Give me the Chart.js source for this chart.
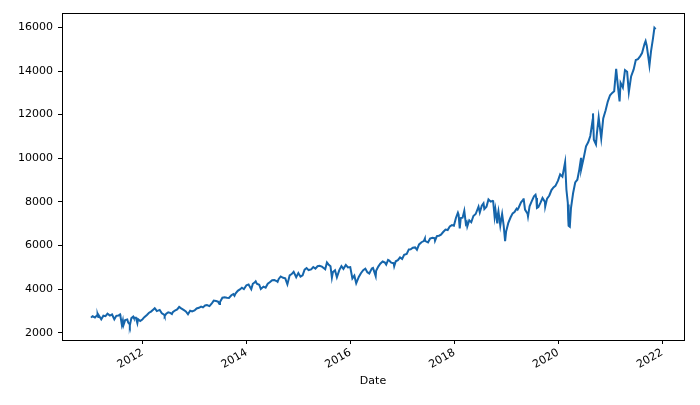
<!DOCTYPE html>
<html>
<head>
<meta charset="utf-8">
<script src="https://cdn.jsdelivr.net/npm/chart.js@4/dist/chart.umd.min.js"></script>
<style>
	html, body { margin: 0; padding: 0; background: #fff; }
	#wrap { width: 700px; height: 405px; }
</style>
</head>
<body>
<div id="wrap"><canvas id="chart" width="700" height="405"></canvas></div>
<script>
// Nasdaq-like closing values (one line per year)
const dates = [
	"2011-01-03","2011-01-14","2011-01-31","2011-02-15","2011-02-18","2011-02-23","2011-02-28","2011-03-16","2011-03-31","2011-04-15","2011-04-29","2011-05-16","2011-05-31","2011-06-16","2011-06-30","2011-07-15","2011-07-26","2011-07-29","2011-08-08","2011-08-15","2011-08-19","2011-08-31","2011-09-15","2011-09-22","2011-09-30","2011-10-03","2011-10-14","2011-10-27","2011-10-31","2011-11-15","2011-11-25","2011-11-30","2011-12-15","2011-12-30",
	"2012-01-13","2012-01-31","2012-02-15","2012-02-29","2012-03-15","2012-03-26","2012-03-30","2012-04-10","2012-04-30","2012-05-15","2012-05-31","2012-06-04","2012-06-15","2012-06-29","2012-07-13","2012-07-25","2012-07-31","2012-08-15","2012-08-31","2012-09-14","2012-09-28","2012-10-15","2012-10-31","2012-11-15","2012-11-30","2012-12-14","2012-12-31",
	"2013-01-15","2013-01-31","2013-02-15","2013-02-28","2013-03-15","2013-03-28","2013-04-15","2013-04-30","2013-05-15","2013-05-31","2013-06-14","2013-06-24","2013-06-28","2013-07-15","2013-07-31","2013-08-15","2013-08-30","2013-09-16","2013-09-30","2013-10-08","2013-10-15","2013-10-31","2013-11-15","2013-11-29","2013-12-13","2013-12-31",
	"2014-01-15","2014-02-03","2014-02-14","2014-02-28","2014-03-06","2014-03-14","2014-03-31","2014-04-11","2014-04-30","2014-05-15","2014-05-30","2014-06-13","2014-06-30","2014-07-15","2014-07-31","2014-08-07","2014-08-15","2014-08-29","2014-09-15","2014-09-30","2014-10-15","2014-10-31","2014-11-14","2014-11-28","2014-12-16","2014-12-31",
	"2015-01-15","2015-01-30","2015-02-13","2015-02-27","2015-03-13","2015-03-31","2015-04-15","2015-04-30","2015-05-15","2015-05-29","2015-06-15","2015-06-29","2015-07-08","2015-07-20","2015-07-31","2015-08-14","2015-08-24","2015-08-31","2015-09-15","2015-09-28","2015-10-15","2015-10-30","2015-11-13","2015-11-30","2015-12-15","2015-12-31",
	"2016-01-15","2016-01-29","2016-02-11","2016-02-29","2016-03-15","2016-03-31","2016-04-15","2016-04-29","2016-05-13","2016-05-31","2016-06-08","2016-06-27","2016-06-30","2016-07-15","2016-07-29","2016-08-15","2016-08-31","2016-09-09","2016-09-22","2016-09-30","2016-10-14","2016-10-31","2016-11-04","2016-11-15","2016-11-30","2016-12-15","2016-12-30",
	"2017-01-13","2017-01-31","2017-02-15","2017-02-28","2017-03-15","2017-03-31","2017-04-13","2017-04-28","2017-05-15","2017-05-31","2017-06-08","2017-06-09","2017-06-30","2017-07-14","2017-07-31","2017-08-15","2017-08-18","2017-08-31","2017-09-15","2017-09-29","2017-10-13","2017-10-31","2017-11-15","2017-11-30","2017-12-15","2017-12-29",
	"2018-01-12","2018-01-26","2018-01-31","2018-02-08","2018-02-15","2018-02-28","2018-03-12","2018-03-23","2018-03-29","2018-04-02","2018-04-16","2018-04-30","2018-05-15","2018-05-31","2018-06-20","2018-06-29","2018-07-13","2018-07-25","2018-07-31","2018-08-15","2018-08-29","2018-09-14","2018-09-28","2018-10-01","2018-10-11","2018-10-17","2018-10-29","2018-10-31","2018-11-07","2018-11-20","2018-11-30","2018-12-03","2018-12-14","2018-12-24","2018-12-31",
	"2019-01-15","2019-01-31","2019-02-15","2019-02-28","2019-03-15","2019-03-22","2019-03-29","2019-04-15","2019-04-30","2019-05-03","2019-05-13","2019-05-31","2019-06-03","2019-06-14","2019-06-28","2019-07-15","2019-07-26","2019-07-31","2019-08-05","2019-08-15","2019-08-30","2019-09-13","2019-09-30","2019-10-02","2019-10-15","2019-10-31","2019-11-15","2019-11-29","2019-12-13","2019-12-31",
	"2020-01-15","2020-01-31","2020-02-19","2020-02-28","2020-03-09","2020-03-12","2020-03-13","2020-03-16","2020-03-23","2020-03-31","2020-04-15","2020-04-30","2020-05-15","2020-05-29","2020-06-10","2020-06-11","2020-06-30","2020-07-15","2020-07-31","2020-08-14","2020-08-31","2020-09-02","2020-09-08","2020-09-23","2020-09-30","2020-10-12","2020-10-30","2020-11-13","2020-11-30","2020-12-15","2020-12-31",
	"2021-01-15","2021-01-29","2021-02-12","2021-02-26","2021-03-08","2021-03-15","2021-03-31","2021-04-15","2021-04-30","2021-05-12","2021-05-28","2021-06-15","2021-06-30","2021-07-15","2021-07-30","2021-08-13","2021-08-31","2021-09-07","2021-09-15","2021-09-30","2021-10-04","2021-10-15","2021-10-29","2021-11-08","2021-11-17"
];
const closes = [
	2691,2755,2700,2804,2834,2722,2782,2617,2781,2760,2873,2783,2835,2616,2774,2789,2839,2756,2358,2555,2342,2579,2607,2456,2415,2336,2667,2738,2684,2686,2441,2620,2540,2605,
	2710,2814,2915,2967,3056,3122,3091,2992,3046,2893,2827,2760,2872,2935,2909,2854,2940,3017,3067,3183,3116,3044,2977,2846,3010,2971,3020,
	3110,3142,3193,3160,3249,3268,3217,3329,3471,3456,3423,3321,3403,3607,3626,3602,3590,3717,3771,3695,3794,3920,3985,4060,4001,4177,
	4215,3997,4244,4308,4352,4245,4199,3999,4115,4069,4243,4310,4408,4416,4370,4334,4465,4580,4519,4493,4215,4631,4688,4792,4547,4736,
	4570,4635,4893,4964,4871,4901,5011,4941,5048,5070,5029,4958,4910,5218,5128,5048,4526,4777,4860,4543,4870,5054,4927,5109,4995,5007,
	4488,4614,4266,4558,4728,4870,4938,4775,4717,4948,4974,4594,4843,5030,5162,5262,5213,5125,5339,5312,5214,5189,5046,5276,5324,5456,5383,
	5574,5615,5819,5825,5900,5912,5805,6048,6149,6199,6321,6207,6140,6312,6348,6333,6217,6429,6448,6496,6605,6728,6706,6874,6936,6903,
	7261,7505,7411,6777,7256,7273,7588,6993,7063,6870,7156,7066,7351,7442,7781,7510,7826,7932,7672,7775,8110,8010,8046,8037,7329,7643,7050,7306,7571,6909,7331,7442,6910,6193,6635,
	7023,7282,7472,7533,7688,7643,7729,7976,8095,8164,7647,7453,7333,7797,8006,8258,8330,8175,7726,7767,7963,8176,7999,7785,8148,8292,8540,8665,8735,8973,
	9258,9151,9817,8567,7950,7201,7875,6904,6860,7700,8393,8890,9014,9490,10020,9492,10059,10550,10745,11019,11775,12056,10847,10633,11168,11876,10912,11829,12199,12596,12888,
	12998,13070,14095,13192,12609,13460,13247,14039,13962,13032,13749,14073,14504,14543,14673,14823,15259,15374,15161,14449,14255,14897,15498,15982,15922
];
const xTickYears = [2012, 2014, 2016, 2018, 2020, 2022];
const yTicks = [2000, 4000, 6000, 8000, 10000, 12000, 14000, 16000];

const font = { family: "'DejaVu Sans', sans-serif", size: 11 };

function toPoints(ds, vs) {
	let n = Math.min(ds.length, vs.length);
	let pts = [];
	for (let i = 0; i < n; i++) {
		pts.push({ x: Date.parse(ds[i]), y: vs[i] });
	}
	return pts;
}

// full box round the plot, like the reference
const frame = {
	id: "frame",
	afterDraw(chart) {
		let a = chart.chartArea;
		let ctx = chart.ctx;
		ctx.save();
		ctx.strokeStyle = "#000";
		ctx.lineWidth = 1;
		ctx.strokeRect(Math.round(a.left) + 0.5, Math.round(a.top) + 0.5, Math.round(a.right - a.left), Math.round(a.bottom - a.top));
		ctx.restore();
	}
};

new Chart(document.getElementById("chart"), {
	type: "line",
	data: {
		datasets: [{
			data: toPoints(dates, closes),
			borderColor: "#1565ab",
			borderWidth: 2,
			pointRadius: 0,
			tension: 0,
			fill: false
		}]
	},
	options: {
		responsive: false,
		animation: false,
		parsing: false,
		layout: { padding: { left: 0, right: 16, top: 13, bottom: 0 } },
		plugins: {
			legend: { display: false },
			tooltip: { enabled: false }
		},
		scales: {
			x: {
				type: "linear",
				min: Date.UTC(2010, 5, 13),
				max: Date.UTC(2022, 5, 4),
				afterBuildTicks: (scale) => {
					scale.ticks = xTickYears.map(y => ({ value: Date.UTC(y, 0, 1) }));
				},
				afterFit: (scale) => { scale.height = 65; },
				grid: { drawOnChartArea: false, drawTicks: true, tickLength: 4, color: "#000" },
				border: { display: false },
				ticks: {
					font: font,
					color: "#000",
					padding: 2,
					minRotation: 30,
					maxRotation: 30,
					autoSkip: false,
					callback: (v) => "" + new Date(v).getUTCFullYear()
				},
				title: { display: true, text: "Date", font: font, color: "#000", padding: { top: 0, bottom: 17 } }
			},
			y: {
				min: 1665,
				max: 16660,
				afterBuildTicks: (scale) => {
					scale.ticks = yTicks.map(v => ({ value: v }));
				},
				afterFit: (scale) => { scale.width = 62; },
				grid: { drawOnChartArea: false, drawTicks: true, tickLength: 4, color: "#000" },
				border: { display: false },
				ticks: {
					font: font,
					color: "#000",
					padding: 5,
					callback: (v) => "" + v
				}
			}
		}
	},
	plugins: [frame]
});
</script>
</body>
</html>
